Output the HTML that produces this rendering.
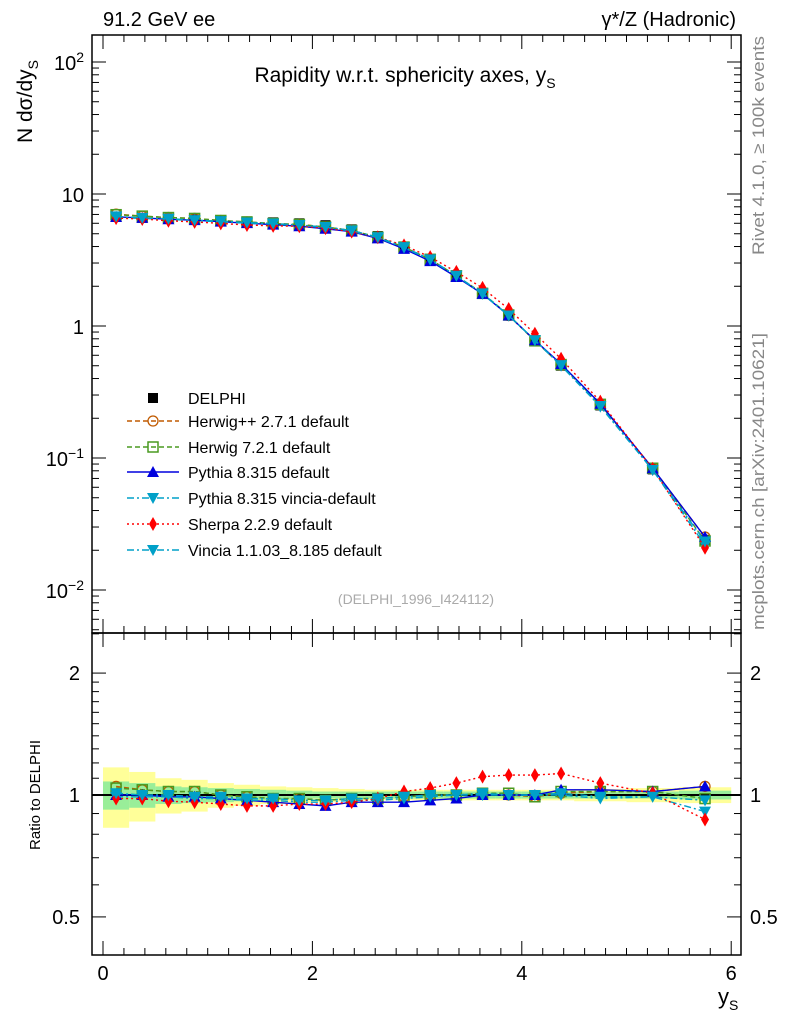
<!DOCTYPE html>
<html><head><meta charset="utf-8"><style>
body{margin:0;background:#fff}
svg{font-family:"Liberation Sans",sans-serif}
</style></head><body>
<svg id="c" width="786" height="1024" xmlns="http://www.w3.org/2000/svg"></svg>
<script>
const xCenters=[0.125,0.375,0.625,0.875,1.125,1.375,1.625,1.875,2.125,2.375,2.625,2.875,3.125,3.375,3.625,3.875,4.125,4.375,4.75,5.25,5.75];
const binEdges=[0,0.25,0.5,0.75,1,1.25,1.5,1.75,2,2.25,2.5,2.75,3,3.25,3.5,3.75,4,4.25,4.5,5,5.5,6];
const dataVals=[6.7,6.6,6.5,6.4,6.3,6.2,6.1,6.0,5.8,5.4,4.8,4.0,3.2,2.4,1.75,1.2,0.78,0.5,0.25,0.082,0.024];
const errOuter=[0.17,0.14,0.1,0.09,0.07,0.06,0.05,0.045,0.04,0.035,0.03,0.03,0.03,0.03,0.03,0.03,0.03,0.03,0.035,0.04,0.045];
const errInner=[0.08,0.07,0.05,0.045,0.04,0.035,0.03,0.025,0.02,0.02,0.02,0.02,0.02,0.02,0.02,0.02,0.02,0.02,0.02,0.02,0.025];
const ratioHerwigpp=[1.05,1.03,1.02,1.02,1.0,0.99,0.98,0.98,0.97,0.98,0.98,0.99,1.0,1.0,1.01,1.0,0.99,1.01,1.02,1.02,1.05];
const ratioHerwig7=[1.04,1.03,1.02,1.02,1.0,0.99,0.98,0.98,0.97,0.98,0.98,0.99,1.0,1.0,1.01,1.01,0.99,1.02,1.02,1.02,0.98];
const ratioPythia=[1.0,1.0,0.99,0.99,0.98,0.97,0.96,0.95,0.94,0.96,0.96,0.96,0.97,0.98,1.0,1.0,1.0,1.03,1.03,1.02,1.05];
const ratioPyVincia=[0.99,0.99,0.99,0.98,0.98,0.97,0.97,0.96,0.96,0.97,0.97,0.98,0.99,1.0,1.0,1.0,1.0,1.0,0.98,0.99,0.91];
const ratioSherpa=[0.98,0.98,0.965,0.96,0.95,0.94,0.94,0.95,0.95,0.96,0.98,1.02,1.04,1.07,1.11,1.12,1.12,1.13,1.07,1.01,0.87];
const ratioVincia=[1.01,1.0,1.0,0.99,0.99,0.98,0.98,0.97,0.97,0.98,0.98,0.99,1.0,1.0,1.01,1.0,1.0,1.01,0.99,0.99,0.97];
const xTicks=[0,2,4,6];

const NS="http://www.w3.org/2000/svg";
const svg=document.getElementById('c');
function el(t,a,p){const e=document.createElementNS(NS,t);for(const k in a)e.setAttribute(k,a[k]);(p||svg).appendChild(e);return e;}
const L=92,R=741,T=35,MB=633,B=955;
const X=v=>103+v*104.7;
const Y=v=>326-132*Math.log10(v);
const RY=v=>795-405*Math.log10(v);

const bands=el('g',{});


xCenters.forEach((c,i)=>{
  const x0=X(binEdges[i]),x1=X(binEdges[i+1]);
  el('rect',{x:x0,y:RY(1+errOuter[i]),width:x1-x0,height:RY(1-errOuter[i])-RY(1+errOuter[i]),fill:'#ffff99'},bands);
});
xCenters.forEach((c,i)=>{
  const x0=X(binEdges[i]),x1=X(binEdges[i+1]);
  el('rect',{x:x0,y:RY(1+errInner[i]),width:x1-x0,height:RY(1-errInner[i])-RY(1+errInner[i]),fill:'#99ee99'},bands);
});
el('line',{x1:L,x2:R,y1:RY(1),y2:RY(1),stroke:'#000','stroke-width':2});

function marker(g,type,x,y,col){
  const s=6;
  if(type==='circle')el('circle',{cx:x,cy:y,r:5,fill:'none',stroke:col,'stroke-width':1.3},g);
  else if(type==='osq')el('rect',{x:x-5,y:y-5,width:10,height:10,fill:'none',stroke:col,'stroke-width':1.5},g);
  else if(type==='sq')el('rect',{x:x-5,y:y-5,width:10,height:10,fill:col},g);
  else if(type==='up')el('polygon',{points:`${x},${y-s} ${x+s},${y+5} ${x-s},${y+5}`,fill:col},g);
  else if(type==='down')el('polygon',{points:`${x},${y+s} ${x+s},${y-5} ${x-s},${y-5}`,fill:col},g);
  else if(type==='diam')el('polygon',{points:`${x},${y-7} ${x+4},${y} ${x},${y+7} ${x-4},${y}`,fill:col},g);
}
const series=[
 {name:'herwigpp',r:ratioHerwigpp,col:'#c05a00',dash:'5,3',m:'circle',lab:'Herwig++ 2.7.1 default'},
 {name:'herwig7',r:ratioHerwig7,col:'#4a9a20',dash:'5,3',m:'osq',lab:'Herwig 7.2.1 default'},
 {name:'pythia',r:ratioPythia,col:'#0000dd',dash:'',m:'up',lab:'Pythia 8.315 default'},
 {name:'pythia-vincia',r:ratioPyVincia,col:'#00a0c8',dash:'7,3,2,3',m:'down',lab:'Pythia 8.315 vincia-default'},
 {name:'sherpa',r:ratioSherpa,col:'#ff0000',dash:'2,3',m:'diam',lab:'Sherpa 2.2.9 default'},
 {name:'vincia',r:ratioVincia,col:'#00a0c8',dash:'7,3,2,3',m:'down',lab:'Vincia 1.1.03_8.185 default'}
];
const dg=el('g',{});


xCenters.forEach((c,i)=>marker(dg,'sq',X(c),Y(dataVals[i]),'#000'));
series.forEach(s=>{
  const g=el('g',{});
  
  
  const pm=xCenters.map((c,i)=>X(c)+','+Y(dataVals[i]*s.r[i])).join(' ');
  const pr=xCenters.map((c,i)=>X(c)+','+RY(s.r[i])).join(' ');
  el('polyline',{points:pm,fill:'none',stroke:s.col,'stroke-width':1.4,'stroke-dasharray':s.dash},g);
  el('polyline',{points:pr,fill:'none',stroke:s.col,'stroke-width':1.4,'stroke-dasharray':s.dash},g);
  xCenters.forEach((c,i)=>{marker(g,s.m,X(c),Y(dataVals[i]*s.r[i]),s.col);marker(g,s.m,X(c),RY(s.r[i]),s.col);});
});

el('rect',{x:L,y:T,width:R-L,height:MB-T,fill:'none',stroke:'#000','stroke-width':1.5});
el('rect',{x:L,y:MB,width:R-L,height:B-MB,fill:'none',stroke:'#000','stroke-width':1.5});
for(let d=-3;d<=2;d++){for(let m=1;m<10;m++){const v=m*Math.pow(10,d);const y=Y(v);if(y<T||y>MB)continue;const len=m===1?14:7;
 el('line',{x1:L,x2:L+len,y1:y,y2:y,stroke:'#000'});el('line',{x1:R,x2:R-len,y1:y,y2:y,stroke:'#000'});}}
[0.4,0.5,0.6,0.7,0.8,0.9,1,1.1,1.2,1.3,1.4,1.5,1.6,1.7,1.8,1.9,2,2.5,3].forEach(v=>{const y=RY(v);if(y<MB||y>B)return;const len=(v===0.5||v===1||v===2)?14:7;
 el('line',{x1:L,x2:L+len,y1:y,y2:y,stroke:'#000'});el('line',{x1:R,x2:R-len,y1:y,y2:y,stroke:'#000'});});
for(let v=0;v<=6.01;v+=0.2){const x=X(v);if(x>R)continue;const maj=Math.abs(v/2-Math.round(v/2))<0.01;const len=maj?14:7;
 [[B,-1],[MB,-1],[MB,1],[T,1]].forEach(([y0,s])=>el('line',{x1:x,x2:x,y1:y0,y2:y0+s*len,stroke:'#000'}));}
function txt(s,a,name){const t=el('text',a);t.innerHTML=s;return t;}
xTicks.forEach(v=>txt(String(v),{x:X(v),y:980,'font-size':20,'text-anchor':'middle'},'x-tick-label'));
txt('10<tspan font-size="14" dy="-8">2</tspan>',{x:84,y:70,'font-size':20,'text-anchor':'end'},'y-tick-label');
txt('10',{x:84,y:202,'font-size':20,'text-anchor':'end'},'y-tick-label');
txt('1',{x:84,y:334,'font-size':20,'text-anchor':'end'},'y-tick-label');
txt('10<tspan font-size="14" dy="-8">−1</tspan>',{x:84,y:466,'font-size':20,'text-anchor':'end'},'y-tick-label');
txt('10<tspan font-size="14" dy="-8">−2</tspan>',{x:84,y:598,'font-size':20,'text-anchor':'end'},'y-tick-label');
[['2',2],['1',1],['0.5',0.5]].forEach(([s,v])=>{txt(s,{x:80,y:RY(v)+7,'font-size':20,'text-anchor':'end'},'ratio-tick-label');txt(s,{x:750,y:RY(v)+7,'font-size':20},'ratio-tick-label-right');});
txt('91.2 GeV ee',{x:103,y:26,'font-size':20},'energy-label');
txt('γ*/Z (Hadronic)',{x:736,y:26,'font-size':20,'text-anchor':'end'},'process-label');
txt('Rapidity w.r.t. sphericity axes, y<tspan font-size="14" dy="6">S</tspan>',{x:405,y:82,'font-size':21,'text-anchor':'middle'},'plot-title');
txt('N   dσ/dy<tspan font-size="14" dy="6">S</tspan>',{x:0,y:0,'font-size':21,transform:'translate(32,143) rotate(-90)'},'y-axis-title');
txt('Ratio to DELPHI',{x:0,y:0,'font-size':15,'text-anchor':'middle',transform:'translate(40,795) rotate(-90)'},'ratio-axis-title');
txt('y<tspan font-size="14" dy="6">S</tspan>',{x:718,y:1004,'font-size':22},'x-axis-title');
txt('Rivet 4.1.0, ≥ 100k events',{x:0,y:0,'font-size':16.5,fill:'#888',textLength:219,lengthAdjust:'spacingAndGlyphs',transform:'translate(764,255) rotate(-90)'},'rivet-label');
txt('mcplots.cern.ch [arXiv:2401.10621]',{x:0,y:0,'font-size':17,fill:'#888',textLength:297,lengthAdjust:'spacingAndGlyphs',transform:'translate(764,630) rotate(-90)'},'mcplots-label');
txt('(DELPHI_1996_I424112)',{x:416,y:604,'font-size':14,fill:'#aaa','text-anchor':'middle'},'analysis-id');
const lg=el('g',{});


const ly=[398,421,447,472,498,524,550];
marker(lg,'sq',153,ly[0],'#000');
txt('DELPHI',{x:188,y:ly[0]+6,'font-size':16},'legend-entry');
series.forEach((s,i)=>{const y=ly[i+1];
 el('line',{x1:127,x2:179,y1:y,y2:y,stroke:s.col,'stroke-width':1.4,'stroke-dasharray':s.dash},lg);
 marker(lg,s.m,153,y,s.col);
 txt(s.lab,{x:188,y:y+6,'font-size':16},'legend-entry');});
</script>
</body></html>
